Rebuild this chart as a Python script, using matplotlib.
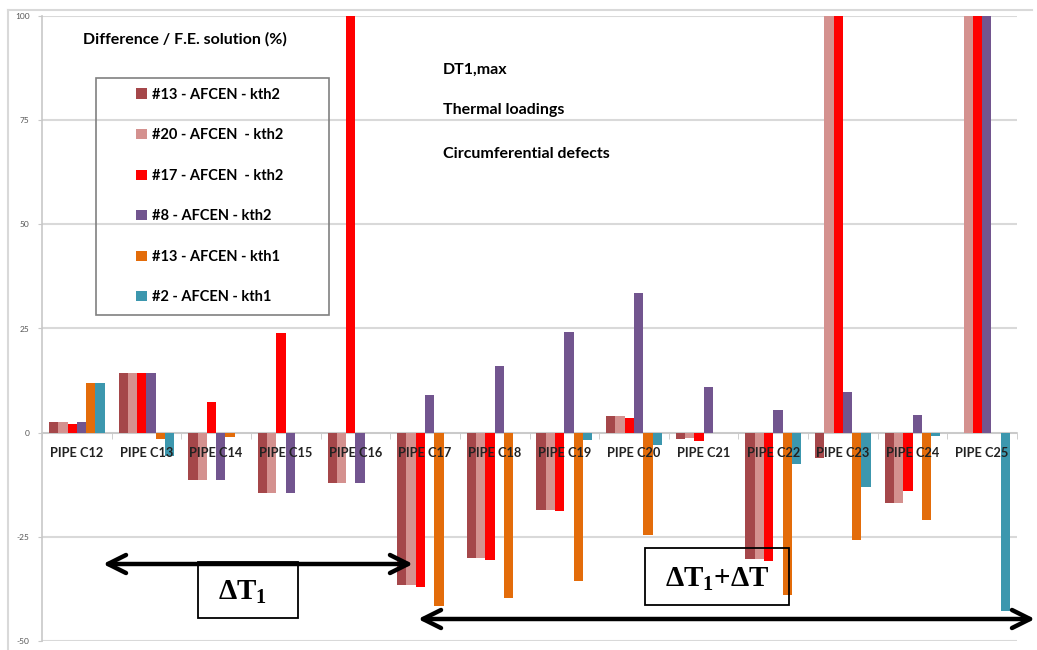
import numpy as np
import matplotlib
matplotlib.use("Agg")
import matplotlib.pyplot as plt
from matplotlib.patches import Rectangle
from matplotlib.lines import Line2D

plt.rcParams['font.family'] = ['Lato', 'DejaVu Sans']
plt.rcParams['mathtext.fontset'] = 'custom'
plt.rcParams['mathtext.rm'] = 'Liberation Serif'
plt.rcParams['mathtext.bf'] = 'Liberation Serif:bold'

# Données : écart / solution E.F. (%) pour chaque tuyauterie
pipes = ['PIPE C12', 'PIPE C13', 'PIPE C14', 'PIPE C15', 'PIPE C16', 'PIPE C17', 'PIPE C18',
         'PIPE C19', 'PIPE C20', 'PIPE C21', 'PIPE C22', 'PIPE C23', 'PIPE C24', 'PIPE C25']

labels = ['#13 - AFCEN - kth2', '#20 - AFCEN  - kth2', '#17 - AFCEN  - kth2',
          '#8 - AFCEN - kth2', '#13 - AFCEN - kth1', '#2 - AFCEN - kth1']

m13_kth2 = [2.6, 14.2, -11.3, -14.5, -12.2, -36.6, -30.1, -18.6, 4.0, -1.5, -30.2, -6.2, -16.9, 0]
m20_kth2 = [2.6, 14.2, -11.3, -14.5, -12.2, -36.6, -30.1, -18.6, 3.9, -1.3, -30.2, 100, -16.9, 100]
m17_kth2 = [2.1, 14.4, 7.4, 23.9, 100, -37.0, -30.6, -18.9, 3.5, -2.1, -30.7, 100, -14.0, 100]
m8_kth2 = [2.6, 14.2, -11.3, -14.5, -12.2, 9.1, 16.1, 24.1, 33.5, 10.9, 5.4, 9.8, 4.2, 100]
m13_kth1 = [11.9, -1.5, -1.1, 0, 0, -41.6, -39.7, -35.5, -24.5, 0, -39.0, -25.8, -21.0, 0]
m2_kth1 = [11.9, -5.5, 0, 0, 0, 0, 0, -1.7, -2.9, 0, -7.6, -13.1, -0.7, -42.9]

series = [m13_kth2, m20_kth2, m17_kth2, m8_kth2, m13_kth1, m2_kth1]
colors = ['#A5474A', '#D4918F', '#FF0000', '#72558F', '#E36C0A', '#3C97AE']

W, H = 1037, 650


def px(x, y):
    # pixels -> fraction de la figure (origine en haut a gauche)
    return x / W, 1 - y / H


fig = plt.figure(figsize=(W / 100, H / 100), dpi=100)
ax = fig.add_axes([42 / W, 9 / H, (1017 - 42) / W, (641 - 16) / H])

x = np.arange(len(pipes))
bw = 0.8 / len(series)
for i, (vals, col, lab) in enumerate(zip(series, colors, labels)):
    ax.bar(x + (i - 2.5) * bw, vals, bw, color=col, label=lab, zorder=2)

ax.set_xlim(-0.5, len(pipes) - 0.5)
ax.set_ylim(-50, 100)
yt = [-50, -25, 0, 25, 50, 75, 100]
ax.set_yticks(yt)
ax.set_yticklabels([str(v) for v in yt])
for v in yt:
    ax.axhline(v, color='#d9d9d9', lw=1.5, zorder=0)

ax.set_axisbelow(False)
for s in ['top', 'right']:
    ax.spines[s].set_visible(False)
ax.spines['left'].set_color('#c8c8c8')
ax.spines['left'].set_linewidth(1.2)
ax.spines['bottom'].set_position(('data', 0))
ax.spines['bottom'].set_color('#c8c8c8')
ax.spines['bottom'].set_linewidth(1.2)
ax.spines['left'].set_zorder(0.5)
ax.spines['bottom'].set_zorder(0.5)

ax.tick_params(axis='y', length=3, color='#c8c8c8', labelsize=6, labelcolor='#555555', pad=6)
ax.set_xticks(x)
ax.set_xticklabels(pipes, fontsize=9.2, fontweight='bold', color='#222222')
ax.tick_params(axis='x', which='major', length=0, pad=10)
ax.set_xticks(np.arange(len(pipes) + 1) - 0.5, minor=True)
ax.tick_params(axis='x', which='minor', length=4, color='#c8c8c8', direction='out')

# cadre du graphique
fig.add_artist(Line2D([8 / W, 1032 / W], [1 - 10 / H, 1 - 10 / H], color='#d9d9d9', lw=1.5))
fig.add_artist(Line2D([8 / W, 8 / W], [1 - 10 / H, 0], color='#d9d9d9', lw=1.5))

# légende
fx, fy = px(96, 315)
fig.add_artist(Rectangle((fx, fy), 233 / W, 237 / H, fill=False, edgecolor='#808080', lw=1.2))
leg = ax.legend(loc='center', bbox_to_anchor=(*px(210, 196), 0, 0), bbox_transform=fig.transFigure,
                frameon=False, prop={'weight': 'bold', 'size': 10.5}, handlelength=0.7,
                handleheight=0.7, handletextpad=0.4, labelspacing=1.82)

# textes
tkw = dict(fontsize=11.5, fontweight='bold', va='center')
fig.text(*px(83, 39), 'Difference / F.E. solution (%)', **tkw)
fig.text(*px(443, 70), 'DT1,max', **tkw)
fig.text(*px(443, 110), 'Thermal loadings', **tkw)
fig.text(*px(443, 154), 'Circumferential defects', **tkw)

# flèches des plages de chargement
arrow = dict(arrowstyle='<->, head_length=1.3, head_width=0.65', lw=3.2, color='black',
             shrinkA=0, shrinkB=0)
ax.annotate('', xy=px(413, 564), xytext=px(103, 564), xycoords='figure fraction',
            textcoords='figure fraction', arrowprops=arrow, zorder=5)
ax.annotate('', xy=px(1035, 619), xytext=px(418, 619), xycoords='figure fraction',
            textcoords='figure fraction', arrowprops=arrow, zorder=5)

bx, by = px(198, 618)
fig.add_artist(Rectangle((bx, by), 100 / W, 56 / H, fill=False, edgecolor='black', lw=1.3))
fig.text(*px(243, 592), r'$\mathbf{\Delta T_1}$', fontsize=21, ha='center', va='center')
bx, by = px(645, 605)
fig.add_artist(Rectangle((bx, by), 144 / W, 57 / H, fill=False, edgecolor='black', lw=1.3))
fig.text(*px(717, 579), r'$\mathbf{\Delta T_1{+}\Delta T}$', fontsize=21, ha='center', va='center')

fig.savefig('out.png', dpi=100)
